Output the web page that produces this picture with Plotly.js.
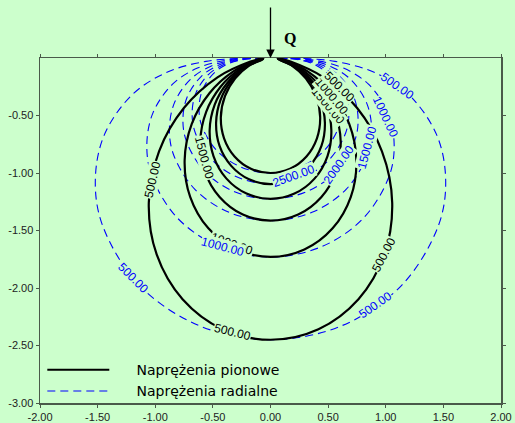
<!DOCTYPE html>
<html><head><meta charset="utf-8">
<script src="https://cdn.plot.ly/plotly-3.0.1.min.js"></script>
<style>html,body{margin:0;padding:0;background:#ccffcc;}#plot{width:515px;height:423px;}</style>
</head><body><div id="plot"></div>
<script>
// Contour levels
const levels = [500, 1000, 1500, 2000, 2500, 3000];
// Vertical stress contours (right half, depth positive, from bottom to surface)
const vx500 = [0, 0.416, 0.763, 0.987, 1.056, 0.967, 0.750, 0.460, 0.174, 0.06];
const vz500 = [2.45, 2.358, 2.097, 1.710, 1.258, 0.811, 0.433, 0.168, 0.031, 0];
const vx1000 = [0, 0.294, 0.539, 0.697, 0.745, 0.683, 0.530, 0.325, 0.123, 0.06];
const vz1000 = [1.73, 1.665, 1.481, 1.207, 0.889, 0.573, 0.306, 0.118, 0.022, 0];
const vx1500 = [0, 0.240, 0.440, 0.570, 0.609, 0.558, 0.433, 0.266, 0.101, 0.06];
const vz1500 = [1.414, 1.361, 1.210, 0.987, 0.726, 0.468, 0.250, 0.097, 0.018, 0];
const vx2000 = [0, 0.208, 0.382, 0.494, 0.528, 0.484, 0.375, 0.230, 0.087, 0.06];
const vz2000 = [1.225, 1.179, 1.049, 0.855, 0.629, 0.406, 0.217, 0.084, 0.015, 0];
const vx2500 = [0, 0.186, 0.341, 0.442, 0.472, 0.433, 0.336, 0.206, 0.078, 0.06];
const vz2500 = [1.096, 1.055, 0.938, 0.765, 0.563, 0.363, 0.194, 0.075, 0.014, 0];
const vx3000 = [0, 0.170, 0.312, 0.403, 0.431, 0.395, 0.306, 0.188, 0.071, 0.06];
const vz3000 = [1.0, 0.963, 0.856, 0.698, 0.514, 0.331, 0.177, 0.068, 0.013, 0];
// Radial stress contours (right half)
const rx500 = [0, 0.623, 1.140, 1.457, 1.520, 1.444, 1.204, 0.905, 0.560, 0.229, 0.06];
const rz500 = [2.45, 2.326, 1.974, 1.457, 1.064, 0.673, 0.323, 0.127, 0.029, 0.002, 0];
const rx1000 = [0, 0.440, 0.805, 1.029, 1.073, 1.019, 0.850, 0.639, 0.395, 0.162, 0.06];
const rz1000 = [1.73, 1.642, 1.394, 1.029, 0.752, 0.475, 0.228, 0.090, 0.021, 0.0014, 0];
const rx1500 = [0, 0.360, 0.658, 0.841, 0.877, 0.833, 0.695, 0.522, 0.323, 0.132, 0.06];
const rz1500 = [1.414, 1.342, 1.140, 0.841, 0.614, 0.388, 0.186, 0.073, 0.017, 0.001, 0];
const rx2000 = [0, 0.312, 0.570, 0.728, 0.760, 0.722, 0.602, 0.453, 0.280, 0.114, 0.06];
const rz2000 = [1.225, 1.163, 0.987, 0.728, 0.532, 0.337, 0.161, 0.064, 0.015, 0.001, 0];
const rx2500 = [0, 0.279, 0.510, 0.652, 0.680, 0.646, 0.539, 0.405, 0.250, 0.102, 0.06];
const rz2500 = [1.096, 1.040, 0.883, 0.652, 0.476, 0.301, 0.144, 0.057, 0.013, 0.001, 0];
const rx3000 = [0, 0.254, 0.465, 0.595, 0.620, 0.589, 0.491, 0.370, 0.229, 0.093, 0.06];
const rz3000 = [1.0, 0.949, 0.806, 0.595, 0.434, 0.275, 0.132, 0.052, 0.012, 0.001, 0];
// Tick labels
const xTicks = [-2, -1.5, -1, -0.5, 0, 0.5, 1, 1.5, 2];
const yTicks = [-3, -2.5, -2, -1.5, -1, -0.5];
const legendNames = ['Naprężenia pionowe', 'Naprężenia radialne'];

const vCurves = [[vx500, vz500], [vx1000, vz1000], [vx1500, vz1500], [vx2000, vz2000], [vx2500, vz2500], [vx3000, vz3000]];
const rCurves = [[rx500, rz500], [rx1000, rz1000], [rx1500, rz1500], [rx2000, rz2000], [rx2500, rz2500], [rx3000, rz3000]];

function full(hx, hz) {
  const x = [], y = [];
  for (let i = hx.length - 1; i >= 0; i--) { x.push(-hx[i]); y.push(-hz[i]); }
  for (let i = 1; i < hx.length; i++) { x.push(hx[i]); y.push(-hz[i]); }
  return {x, y};
}
const pad = '\u00a0\u00a0\u00a0\u00a0\u00a0';
const traces = [];
rCurves.forEach((c, i) => {
  const f = full(c[0], c[1]);
  traces.push({x: f.x, y: f.y, type: 'scatter', mode: 'lines', name: pad + legendNames[1],
    legendgroup: 'r', showlegend: i === 0, legendrank: 2,
    line: {color: '#0000ff', width: 1.1, dash: '8px,5px', shape: 'spline'}, hoverinfo: 'skip'});
});
vCurves.forEach((c, i) => {
  const f = full(c[0], c[1]);
  traces.push({x: f.x, y: f.y, type: 'scatter', mode: 'lines', name: pad + legendNames[0],
    legendgroup: 'v', showlegend: i === 0, legendrank: 1,
    line: {color: '#000000', width: 2.2, shape: 'spline'}, hoverinfo: 'skip'});
});

const bg = '#ccffcc';
function lab(x, y, t, ang, col) {
  return {x, y, xref: 'x', yref: 'y', text: t, textangle: ang, showarrow: false,
    font: {family: 'Liberation Sans, Arial', size: 12, color: col}, bgcolor: bg, borderpad: 0};
}
const annotations = [
  lab(-1.026, -1.06, '500.00', -77, '#000'),
  lab(-0.575, -0.87, '1500.00', 75, '#000'),
  lab(-0.33, -1.62, '1000.00', 20, '#000'),
  lab(-0.33, -2.38, '500.00', 14, '#000'),
  lab(0.98, -1.71, '500.00', -62, '#000'),
  lab(0.50, -0.42, '1500.00', 50, '#000'),
  lab(0.53, -0.33, '1000.00', 50, '#000'),
  lab(0.60, -0.25, '500.00', 45, '#000'),
  lab(1.10, -0.24, '500.00', 35, '#0000ff'),
  lab(1.00, -0.51, '1000.00', 65, '#0000ff'),
  lab(0.835, -0.78, '1500.00', -75, '#0000ff'),
  lab(0.59, -0.93, '2000.00', -55, '#0000ff'),
  lab(0.20, -1.03, '2500.00', -20, '#0000ff'),
  lab(-0.41, -1.64, '1000.00', 15, '#0000ff'),
  lab(-1.19, -1.91, '500.00', 45, '#0000ff'),
  lab(0.91, -2.15, '500.00', -35, '#0000ff'),
  {x: 0, y: 0, xref: 'x', yref: 'y', text: '', showarrow: true, ax: 0, ay: -52,
    arrowhead: 2, arrowsize: 1.3, arrowwidth: 1.3, arrowcolor: '#000'},
  {x: 0.1, y: 1.088, xref: 'x', yref: 'paper', text: '<b>Q</b>', showarrow: false, xanchor: 'left',
    font: {family: 'Liberation Serif, Times New Roman', size: 16, color: '#000'}}
];

const axCol = '#4a5a4a';
const layout = {
  width: 515, height: 423,
  margin: {l: 40, r: 14, t: 58, b: 20},
  paper_bgcolor: bg, plot_bgcolor: bg,
  showlegend: true,
  legend: {x: 0.005, y: -0.012, xanchor: 'left', yanchor: 'bottom', bgcolor: 'rgba(0,0,0,0)',
    font: {family: 'DejaVu Sans', size: 14, color: '#000'}, itemwidth: 62,
    traceorder: 'grouped', tracegroupgap: 0},
  xaxis: {range: [-2, 2], tickvals: xTicks, ticktext: xTicks.map(v => v.toFixed(2)),
    showgrid: false, zeroline: false, showline: true, linecolor: axCol, linewidth: 1.5,
    mirror: 'ticks', ticks: 'outside', ticklen: 3, tickcolor: axCol,
    tickfont: {family: 'Liberation Sans, Arial', size: 11, color: '#222'}},
  yaxis: {range: [-3, 0], tickvals: yTicks, ticktext: yTicks.map(v => v.toFixed(2)),
    showgrid: false, zeroline: false, showline: true, linecolor: axCol, linewidth: 1.5,
    mirror: 'ticks', ticks: 'outside', ticklen: 3, tickcolor: axCol,
    tickfont: {family: 'Liberation Sans, Arial', size: 11, color: '#222'}},
  annotations: annotations
};
Plotly.newPlot('plot', traces, layout, {displayModeBar: false, staticPlot: true});
</script></body></html>
